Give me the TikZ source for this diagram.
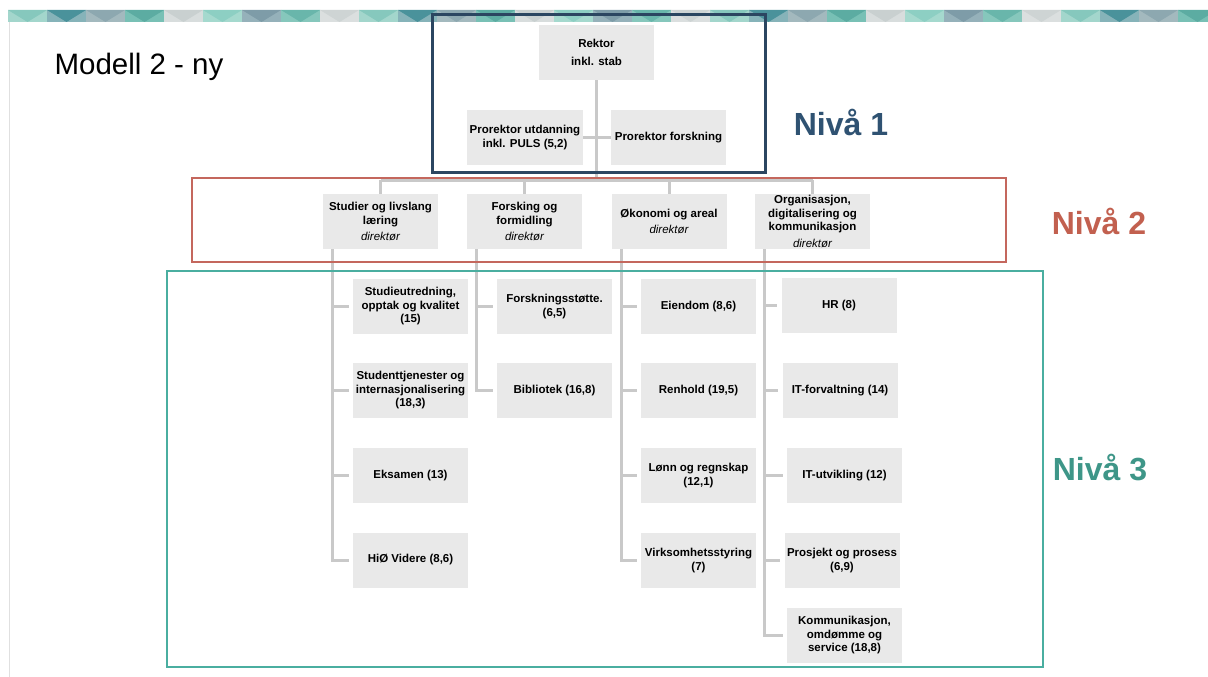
\documentclass[tikz,border=0pt]{standalone}
\usepackage{fontspec}
\setmainfont{Liberation Sans}
\definecolor{boxgray}{HTML}{E9E9E9}
\definecolor{linkgray}{HTML}{C9C9C9}
\definecolor{navy}{HTML}{2B4661}
\definecolor{rust}{HTML}{C4675D}
\definecolor{teal}{HTML}{4AAEA0}
\definecolor{navytext}{HTML}{2F5272}
\definecolor{rusttext}{HTML}{C2604F}
\definecolor{tealtext}{HTML}{3E9688}
% band colours: background / triangle
\definecolor{bandB0}{HTML}{A3D6CC}\definecolor{bandA0}{HTML}{86C8BD}
\definecolor{bandB1}{HTML}{86B3B9}\definecolor{bandA1}{HTML}{4A929B}
\definecolor{bandB2}{HTML}{A3B9BE}\definecolor{bandA2}{HTML}{8DA8B0}
\definecolor{bandB3}{HTML}{78C0B5}\definecolor{bandA3}{HTML}{5CACA2}
\definecolor{bandB4}{HTML}{D8DDDD}\definecolor{bandA4}{HTML}{C9D0D0}
\definecolor{bandB5}{HTML}{A5D9CE}\definecolor{bandA5}{HTML}{8DCFC3}
\definecolor{bandB6}{HTML}{95B1BA}\definecolor{bandA6}{HTML}{7E9CA8}
\definecolor{bandB7}{HTML}{86C7BC}\definecolor{bandA7}{HTML}{69B6AB}
\definecolor{bandB8}{HTML}{DBDFDF}\definecolor{bandA8}{HTML}{CED4D4}
\newcommand\roletext[1]{{\mdseries\itshape #1}}
\begin{document}
\begin{tikzpicture}[x=1pt,y=-1pt,
  unit/.style={fill=boxgray, inner sep=0pt, minimum height=55pt, minimum width=115pt,
    align=center, font=\fontsize{11.5}{13.5}\selectfont\bfseries},
  link/.style={draw=linkgray, line width=3pt},
  stub/.style={link, shorten >=4pt},
  level/.style={font=\fontsize{32}{36}\selectfont\bfseries}]
\useasboundingbox (0,0) rectangle (1208,677);
\fill[white] (0,0) rectangle (1208,677);

% decorative band along the top
\foreach \i in {0,...,30}{
  \pgfmathtruncatemacro{\k}{mod(\i,9)}
  \pgfmathsetmacro{\xa}{8+39*\i}
  \fill[bandB\k] (\xa,10) rectangle ++(39,12);
  \fill[bandA\k] (\xa,10) -- ++(39,0) -- ++(-19.5,12) -- cycle;
}
\draw[draw=black!12, line width=1pt] (9,22) -- (9,677);

% title
\node[anchor=west, font=\fontsize{29.5}{34}\selectfont] (title) at (51,67) {Modell 2 - ny};

% level 1
\node[unit] (rektor) at (596.5,52.5) {Rektor\\[5pt]inkl. stab};
\node[unit, minimum width=116pt] (pu) at (525,137.5) {Prorektor utdanning\\inkl. PULS (5,2)};
\node[unit] (pf) at (668.5,137.5) {Prorektor forskning};

% level 2
\node[unit] (stud) at (380.5,221.5) {Studier og livslang\\læring\\[3pt]\roletext{direktør}};
\node[unit] (fors) at (524.5,221.5) {Forsking og\\formidling\\[3pt]\roletext{direktør}};
\node[unit] (okon) at (669,221.5) {Økonomi og areal\\[3pt]\roletext{direktør}};
\node[unit] (org) at (812.5,221.5) {Organisasjon,\\digitalisering og\\kommunikasjon\\[3pt]\roletext{direktør}};

% level 3
\node[unit] (s1) at (410.5,306.5) {Studieutredning,\\opptak og kvalitet\\(15)};
\node[unit] (s2) at (410.5,390.5) {Studenttjenester og\\internasjonalisering\\(18,3)};
\node[unit] (s3) at (410.5,475.5) {Eksamen (13)};
\node[unit] (s4) at (410.5,560) {HiØ Videre (8,6)};
\node[unit] (f1) at (554.5,306.5) {Forskningsstøtte.\\(6,5)};
\node[unit] (f2) at (554.5,390.5) {Bibliotek (16,8)};
\node[unit] (o1) at (698.5,306.5) {Eiendom (8,6)};
\node[unit] (o2) at (698.5,390.5) {Renhold (19,5)};
\node[unit] (o3) at (698.5,475.5) {Lønn og regnskap\\(12,1)};
\node[unit] (o4) at (698.5,560.5) {Virksomhetsstyring\\(7)};
\node[unit] (g1) at (839,305.5) {HR (8)};
\node[unit] (g2) at (840,390.5) {IT-forvaltning (14)};
\node[unit] (g3) at (844.5,475.5) {IT-utvikling (12)};
\node[unit] (g4) at (842,560.5) {Prosjekt og prosess\\(6,9)};
\node[unit] (g5) at (844.5,635.5) {Kommunikasjon,\\omdømme og\\service (18,8)};

% connectors
\coordinate (hub) at (rektor.south |- 0,180);
\draw[link] (rektor.south) -- (hub);
\draw[link] (pu.east) -- (pf.west);
\draw[link] (stud.north |- hub) -- (org.north |- hub);
\foreach \n in {stud,fors,okon,org}{
  \draw[link] (\n.north |- hub) -- (\n.north);
  \coordinate (\n-down) at ([xshift=10pt]\n.south west);
}
\foreach \n in {s1,s2,s3,s4}{\draw[stub] (stud-down) |- (\n.west);}
\foreach \n in {f1,f2}{\draw[stub] (fors-down) |- (\n.west);}
\foreach \n in {o1,o2,o3,o4}{\draw[stub] (okon-down) |- (\n.west);}
\foreach \n in {g1,g2,g3,g4,g5}{\draw[stub] (org-down) |- (\n.west);}

% level frames
\draw[navy, line width=3pt] (432,15) rectangle (765,172);
\draw[rust, line width=2.5pt] (192,178) rectangle (1006,262);
\draw[teal, line width=2.5pt] (167,271) rectangle (1043,667);

\node[level, text=navytext] (n1) at (841,122) {Nivå 1};
\node[level, text=rusttext] (n2) at (1099,221) {Nivå 2};
\node[level, text=tealtext] (n3) at (1100,468) {Nivå 3};
\end{tikzpicture}
\end{document}
